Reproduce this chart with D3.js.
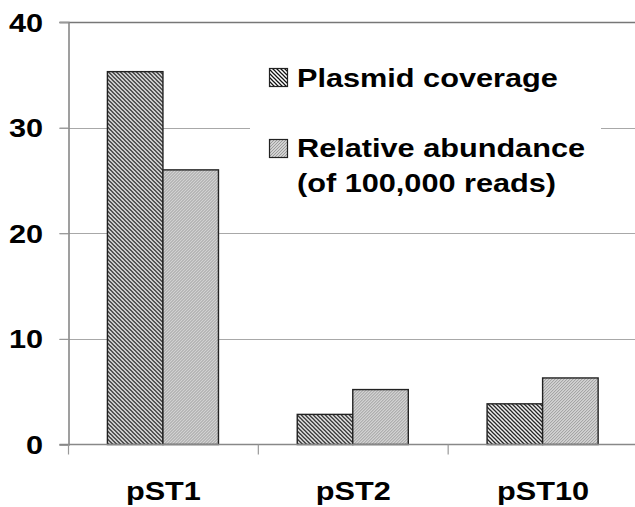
<!DOCTYPE html>
<html><head><meta charset="utf-8">
<script src="https://cdn.jsdelivr.net/npm/d3@7"></script>
<style>
html,body{margin:0;padding:0;background:#fff;}
svg{display:block;}
text{font-family:"Liberation Sans",Arial,sans-serif;font-weight:bold;fill:#000;}
</style></head>
<body>
<svg id="chart" width="635" height="507"></svg>
<script>
const categories = ["pST1", "pST2", "pST10"];
const seriesNames = ["Plasmid coverage", "Relative abundance"];
const plasmidCoverage = [35.3, 2.85, 3.85];
const relativeAbundance = [26.0, 5.2, 6.3];
const yTicks = [0, 10, 20, 30, 40];
const legendLines = [["Plasmid coverage"], ["Relative abundance", "(of 100,000 reads)"]];

(function () {
const svg = d3.select("#chart");
const W = 635;
const mLeft = 68.5, mRight = 638, mTop = 22, mBottom = 444.5;
const SX = 1.18; // horizontal stretch of glyphs seen in reference
const FS = 26;

const defs = svg.append("defs");
const p1 = defs.append("pattern").attr("id","hatch").attr("patternUnits","userSpaceOnUse")
  .attr("width",4).attr("height",4);
p1.append("rect").attr("width",4).attr("height",4).attr("fill","#fff");
p1.append("path").attr("d","M-1,-1L5,5M-1,3L1,5M3,-1L5,1").attr("stroke","#111").attr("stroke-width",1.25);
const p2 = defs.append("pattern").attr("id","gray").attr("patternUnits","userSpaceOnUse")
  .attr("width",3).attr("height",3);
p2.append("rect").attr("width",3).attr("height",3).attr("fill","#d2d2d2");
p2.append("path").attr("d","M-1,4L4,-1M-1,1L1,-1M2,4L4,2").attr("stroke","#8e8e8e").attr("stroke-width",0.8);
const fills = ["url(#hatch)", "url(#gray)"];

const y = d3.scaleLinear().domain([0, 40]).range([mBottom, mTop]);
const x0 = d3.scaleBand().domain(categories).range([mLeft, mRight]).padding(0);
const bw = x0.bandwidth();
const x1 = d3.scaleBand().domain(seriesNames).range([bw*0.205, bw*0.79]).padding(0);

// gridlines
svg.append("g").selectAll("line").data(yTicks.filter(d => d > 0)).join("line")
  .attr("x1", mLeft - 9).attr("x2", W)
  .attr("y1", d => Math.round(y(d)) + 0.5).attr("y2", d => Math.round(y(d)) + 0.5)
  .attr("stroke", d => d === 40 ? "#777" : "#a8a8a8").attr("stroke-width", d => d === 40 ? 1.6 : 1.2);

// y axis
const yAxis = svg.append("g").attr("transform", `translate(${mLeft},0)`)
  .call(d3.axisLeft(y).tickValues(yTicks).tickSize(9).tickFormat(""));
yAxis.select(".domain").attr("stroke", "#888").attr("stroke-width", 1.6);
yAxis.selectAll(".tick line").attr("stroke", "#999").attr("stroke-width", 1.2);

// legend background box
const legend = svg.append("g");
legend.append("rect").attr("x", 250).attr("y", 42).attr("width", 351).attr("height", 172).attr("fill", "#fff");

// bars
const data = categories.map((c, i) => ({ cat: c, vals: [plasmidCoverage[i], relativeAbundance[i]] }));
svg.append("g").selectAll("g").data(data).join("g")
  .attr("transform", d => `translate(${x0(d.cat)},0)`)
  .selectAll("rect").data(d => d.vals.map((v, j) => ({ v, s: seriesNames[j], j })))
  .join("rect")
  .attr("x", d => x1(d.s)).attr("width", x1.bandwidth())
  .attr("y", d => y(d.v)).attr("height", d => y(0) - y(d.v))
  .attr("fill", d => fills[d.j]).attr("stroke", "#222").attr("stroke-width", 1.4);

// x axis
const xAxisG = svg.append("g").attr("transform", `translate(0,${mBottom})`);
xAxisG.append("line").attr("x1", mLeft - 9).attr("x2", W).attr("stroke", "#888").attr("stroke-width", 1.6);
xAxisG.selectAll("line.tk").data(categories).join("line").attr("class","tk")
  .attr("x1", d => x0(d)).attr("x2", d => x0(d)).attr("y1", 0).attr("y2", 10)
  .attr("stroke", "#999").attr("stroke-width", 1.2);

// y tick labels
svg.append("g").selectAll("text").data(yTicks).join("text")
  .attr("transform", d => `translate(43,${y(d) + 9.5}) scale(${SX},1)`)
  .attr("text-anchor", "end").attr("font-size", FS).text(d => d);

// x labels
svg.append("g").selectAll("text").data(categories).join("text")
  .attr("transform", d => `translate(${x0(d) + bw/2},500) scale(${SX},1)`)
  .attr("text-anchor", "middle").attr("font-size", FS).text(d => d);

// legend items
const swY = [68, 139];
const txtY = [87, 157];
legendLines.forEach((lines, i) => {
  legend.append("rect").attr("x", 269.5).attr("y", swY[i] + 0.5).attr("width", 18).attr("height", 18)
    .attr("fill", fills[i]).attr("stroke", "#222").attr("stroke-width", 1.2);
  lines.forEach((t, k) => {
    legend.append("text").attr("transform", `translate(297,${txtY[i] + k*35}) scale(${SX},1)`)
      .attr("font-size", FS).text(t);
  });
});
})();
</script>
</body></html>
